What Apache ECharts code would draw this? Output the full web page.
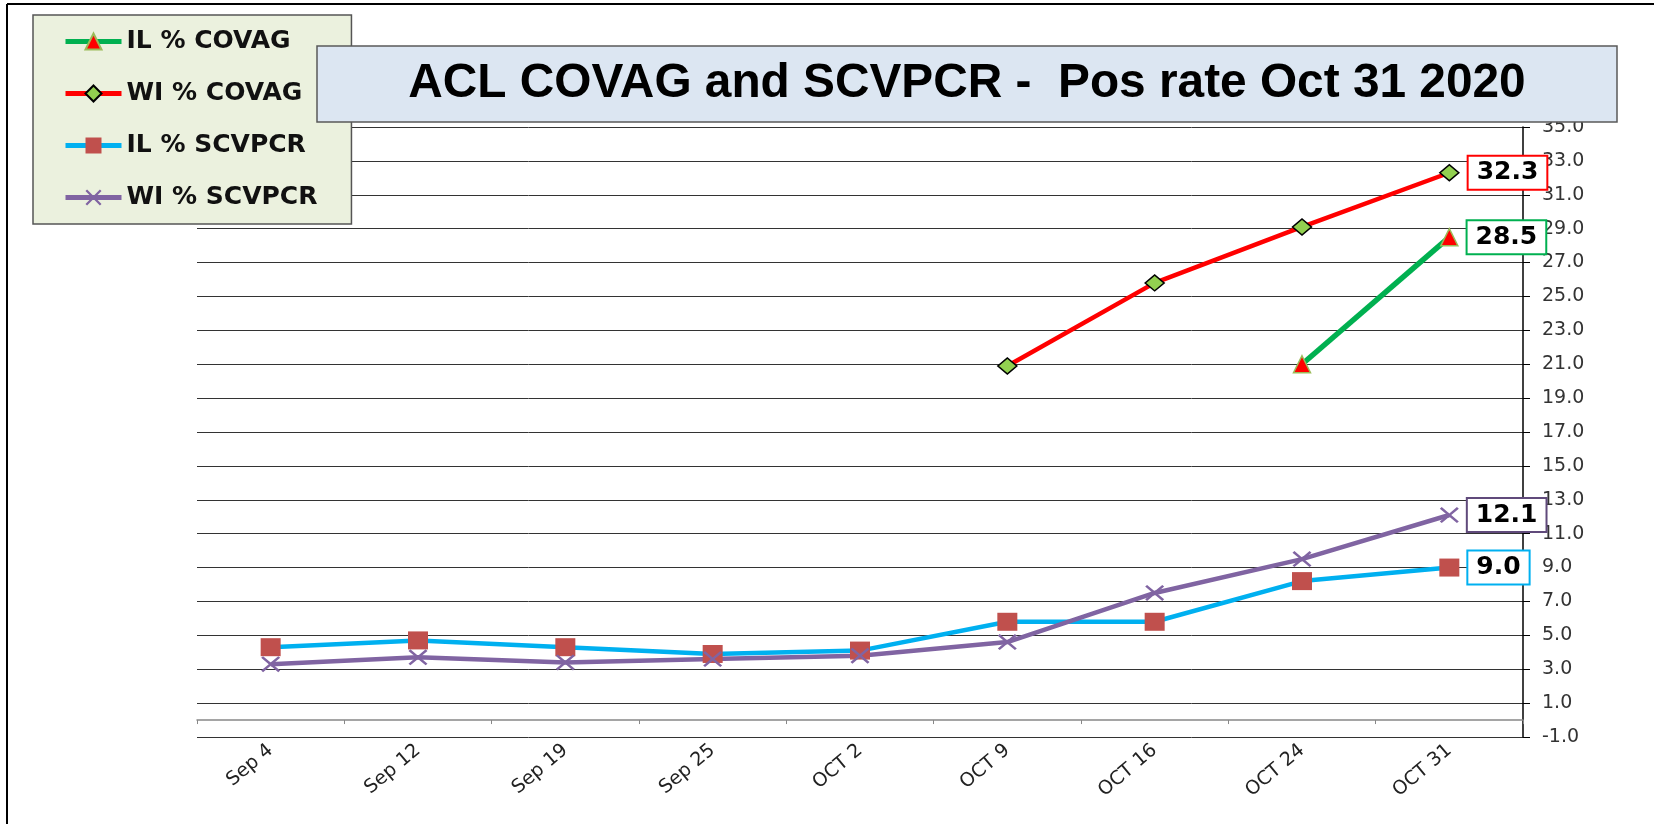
<!DOCTYPE html>
<html>
<head>
<meta charset="utf-8">
<script src="https://cdn.jsdelivr.net/npm/echarts@6/dist/echarts.min.js"></script>
<style>
html,body{margin:0;padding:0;background:#fff;}
#main{width:1654px;height:824px;}
</style>
</head>
<body>
<div id="main"></div>
<script>
var categories = ['Sep 4','Sep 12','Sep 19','Sep 25','OCT 2','OCT 9','OCT 16','OCT 24','OCT 31'];
var ilCovag   = [null, null, null, null, null, null, null, 21.0, 28.5];
var wiCovag   = [null, null, null, null, null, 20.9, 25.8, 29.1, 32.3];
var ilScvpcr  = [4.3, 4.7, 4.3, 3.9, 4.1, 5.8, 5.8, 8.2, 9.0];
var wiScvpcr  = [3.3, 3.7, 3.4, 3.6, 3.8, 4.6, 7.5, 9.5, 12.1];
var titleText = 'ACL COVAG and SCVPCR -  Pos rate Oct 31 2020';

var xPath = 'path://M1,0 L5,4 L9,0 L10,1 L6,5 L10,9 L9,10 L5,6 L1,10 L0,9 L4,5 L0,1 Z';

// label only on the last point, boxed in the series colour
function lastLabel(arr, boxColor){
	var last = arr.length - 1;
	return arr.map(function(v, i){
		if(i != last) return v;
		return {
			value: v,
			label: {
				show: true,
				position: 'right',
				distance: 9,
				formatter: function(p){ return p.value.toFixed(1); },
				fontFamily: 'DejaVu Sans',
				fontWeight: 'bold',
				fontSize: 25,
				color: '#000',
				backgroundColor: '#fff',
				borderColor: boxColor,
				borderWidth: 2,
				padding: [4, 8, 3, 8]
			}
		};
	});
}

var myChart = echarts.init(document.getElementById('main'));
var option = {
	backgroundColor: '#fff',
	animation: false,
	grid: { left: 197, right: 131, top: 127, bottom: 87 },
	legend: {
		orient: 'vertical',
		left: 33,
		top: 15,
		padding: [14, 34, 14, 30],
		itemGap: 27,
		itemWidth: 56,
		itemHeight: 20,
		backgroundColor: '#ebf1de',
		borderColor: '#555',
		borderWidth: 1.5,
		textStyle: { fontFamily: 'DejaVu Sans', fontWeight: 'bold', fontSize: 25, color: '#111' },
		data: [
			{ name: 'IL % COVAG', lineStyle: { width: 5 } },
			{ name: 'WI % COVAG', lineStyle: { width: 5 } },
			{ name: 'IL % SCVPCR', lineStyle: { width: 5 } },
			{ name: 'WI % SCVPCR', lineStyle: { width: 5 } }
		]
	},
	xAxis: {
		type: 'category',
		data: categories,
		boundaryGap: true,
		axisLine: { onZero: true, lineStyle: { color: '#888', width: 1.5 } },
		axisTick: { show: true, inside: false, length: 4, lineStyle: { color: '#888' } },
		axisLabel: { rotate: 40, margin: 11, fontFamily: 'DejaVu Sans', fontSize: 19, color: '#222' },
		splitLine: { show: false }
	},
	yAxis: {
		type: 'value',
		position: 'right',
		min: -1,
		max: 35,
		interval: 2,
		axisLine: { show: true, lineStyle: { color: '#000', width: 1.5 } },
		axisTick: { show: true, length: 7, lineStyle: { color: '#000' } },
		axisLabel: {
			margin: 19,
			fontFamily: 'DejaVu Sans',
			fontSize: 19,
			color: '#333',
			formatter: function(v){ return v.toFixed(1); }
		},
		splitLine: { show: true, lineStyle: { color: '#333', width: 1 } }
	},
	series: [
		{
			name: 'IL % COVAG',
			type: 'line',
			data: lastLabel(ilCovag, '#00b050'),
			symbol: 'triangle',
			symbolSize: 17,
			lineStyle: { color: '#00b050', width: 5.5 },
			itemStyle: { color: '#ff0000', borderColor: '#9bbb59', borderWidth: 1.5 },
			z: 3
		},
		{
			name: 'WI % COVAG',
			type: 'line',
			data: lastLabel(wiCovag, '#ff0000'),
			symbol: 'diamond',
			symbolSize: [19, 16],
			lineStyle: { color: '#ff0000', width: 4.5 },
			itemStyle: { color: '#92d050', borderColor: '#000', borderWidth: 1.5 },
			z: 3
		},
		{
			name: 'IL % SCVPCR',
			type: 'line',
			data: lastLabel(ilScvpcr, '#00b0f0'),
			symbol: 'rect',
			symbolSize: [20, 18],
			lineStyle: { color: '#00b0f0', width: 4.5 },
			itemStyle: { color: '#c0504d' },
			z: 3
		},
		{
			name: 'WI % SCVPCR',
			type: 'line',
			data: lastLabel(wiScvpcr, '#604a7b'),
			symbol: xPath,
			symbolSize: [19, 16],
			lineStyle: { color: '#8064a2', width: 4.5 },
			itemStyle: { color: '#8064a2' },
			z: 3
		}
	],
	graphic: [
		{ type: 'line', z: 50, shape: { x1: 7, y1: 4, x2: 1654, y2: 4 }, style: { stroke: '#000', lineWidth: 2 } },
		{ type: 'line', z: 50, shape: { x1: 7, y1: 4, x2: 7, y2: 824 }, style: { stroke: '#000', lineWidth: 2 } },
		{
			type: 'rect', z: 40,
			shape: { x: 317, y: 46, width: 1300, height: 76 },
			style: { fill: '#dce6f2', stroke: '#595959', lineWidth: 1.5 }
		},
		{
			type: 'text', z: 41,
			x: 967, y: 84,
			style: {
				text: titleText,
				fontFamily: 'Liberation Sans, Arial, sans-serif',
				fontWeight: 'bold',
				fontSize: 47.8,
				fill: '#000',
				align: 'center',
				verticalAlign: 'middle'
			}
		}
	]
};
myChart.setOption(option);
</script>
</body>
</html>
